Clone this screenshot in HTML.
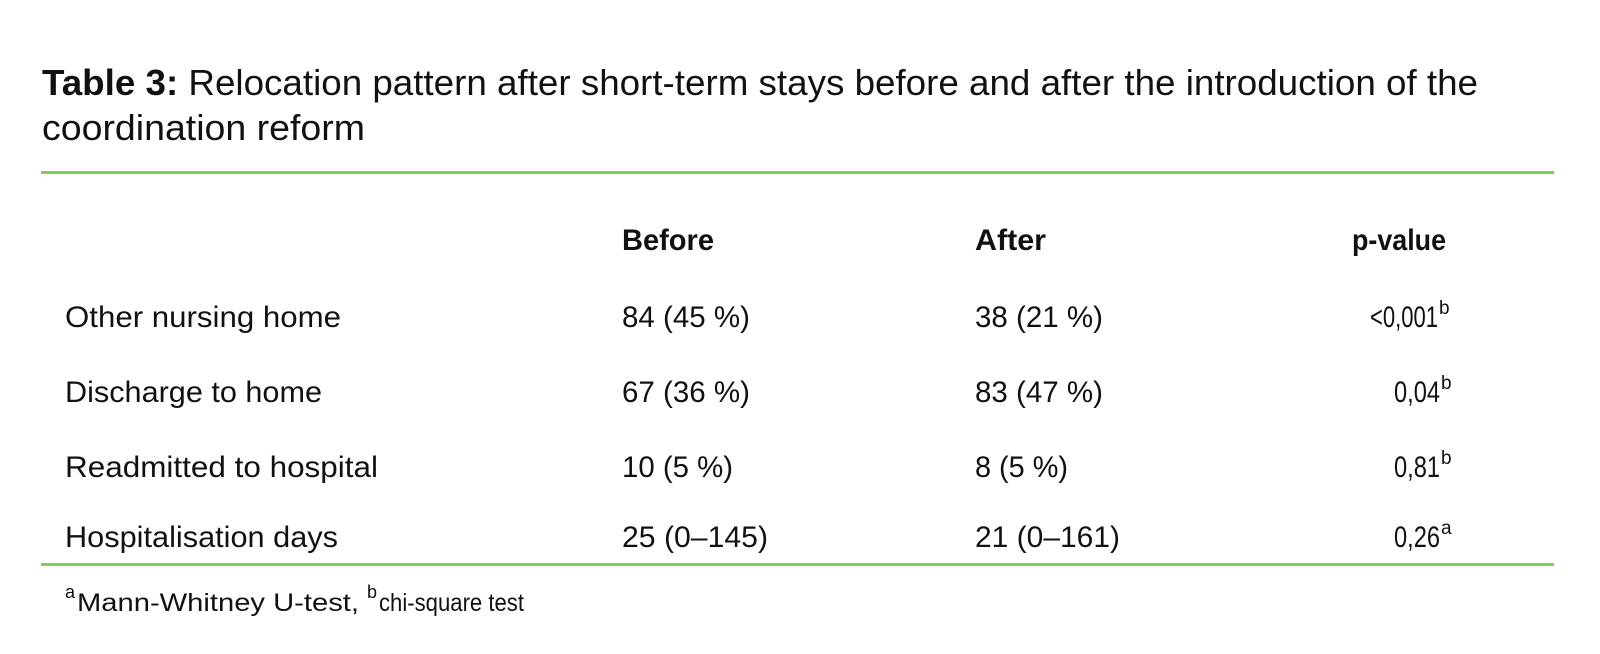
<!DOCTYPE html>
<html><head><meta charset="utf-8"><style>
html,body{margin:0;padding:0;background:#fff;width:1600px;height:654px;overflow:hidden}
svg{display:block}
text{font-family:"Liberation Sans",sans-serif;fill:#111}
</style></head><body>
<svg width="1600" height="654" viewBox="0 0 1600 654" xmlns="http://www.w3.org/2000/svg">
<text x="42" y="95" font-size="36" textLength="1436" lengthAdjust="spacingAndGlyphs"><tspan font-weight="bold">Table 3:</tspan> Relocation pattern after short-term stays before and after the introduction of the</text>
<text x="42" y="140" font-size="36" textLength="323" lengthAdjust="spacingAndGlyphs">coordination reform</text>
<rect x="41" y="171" width="1513" height="3" fill="#7dcf56"/>
<g font-size="30">
<text x="622" y="250" font-weight="bold" textLength="92" lengthAdjust="spacingAndGlyphs">Before</text>
<text x="975" y="250" font-weight="bold" textLength="71" lengthAdjust="spacingAndGlyphs">After</text>
<text x="1352" y="250" font-weight="bold" textLength="94" lengthAdjust="spacingAndGlyphs">p-value</text>

<text x="65" y="327" textLength="276" lengthAdjust="spacingAndGlyphs">Other nursing home</text>
<text x="622" y="327" textLength="128" lengthAdjust="spacingAndGlyphs">84 (45 %)</text>
<text x="975" y="327" textLength="128" lengthAdjust="spacingAndGlyphs">38 (21 %)</text>
<text x="1370" y="327" textLength="68" lengthAdjust="spacingAndGlyphs">&lt;0,001</text>
<text x="1439" y="314" font-size="19">b</text>

<text x="65" y="402" textLength="257" lengthAdjust="spacingAndGlyphs">Discharge to home</text>
<text x="622" y="402" textLength="128" lengthAdjust="spacingAndGlyphs">67 (36 %)</text>
<text x="975" y="402" textLength="128" lengthAdjust="spacingAndGlyphs">83 (47 %)</text>
<text x="1394" y="402" textLength="46" lengthAdjust="spacingAndGlyphs">0,04</text>
<text x="1441" y="389" font-size="19">b</text>

<text x="65" y="477" textLength="313" lengthAdjust="spacingAndGlyphs">Readmitted to hospital</text>
<text x="622" y="477" textLength="111" lengthAdjust="spacingAndGlyphs">10 (5 %)</text>
<text x="975" y="477" textLength="93" lengthAdjust="spacingAndGlyphs">8 (5 %)</text>
<text x="1394" y="477" textLength="46" lengthAdjust="spacingAndGlyphs">0,81</text>
<text x="1441" y="464" font-size="19">b</text>

<text x="65" y="547" textLength="273" lengthAdjust="spacingAndGlyphs">Hospitalisation days</text>
<text x="622" y="547" textLength="146" lengthAdjust="spacingAndGlyphs">25 (0–145)</text>
<text x="975" y="547" textLength="145" lengthAdjust="spacingAndGlyphs">21 (0–161)</text>
<text x="1394" y="547" textLength="46" lengthAdjust="spacingAndGlyphs">0,26</text>
<text x="1441" y="534" font-size="19">a</text>
</g>
<rect x="41" y="563" width="1513" height="3" fill="#7dcf56"/>
<text x="65" y="598" font-size="18">a</text>
<text x="77" y="611" font-size="25" textLength="282" lengthAdjust="spacingAndGlyphs">Mann-Whitney U-test,</text>
<text x="367" y="598" font-size="18">b</text>
<text x="379" y="611" font-size="25" textLength="145" lengthAdjust="spacingAndGlyphs">chi-square test</text>
</svg>
</body></html>
